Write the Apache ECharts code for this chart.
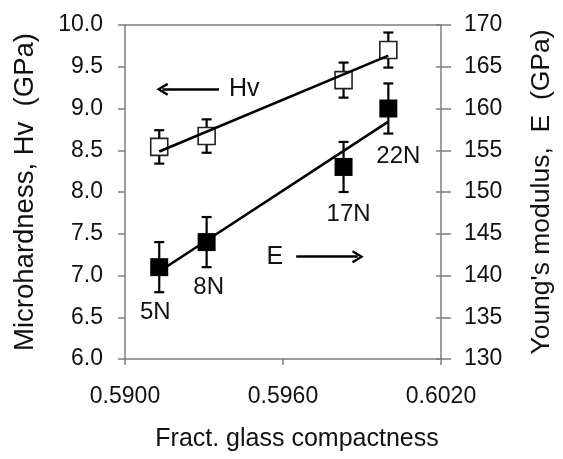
<!DOCTYPE html>
<html>
<head>
<meta charset="utf-8">
<script src="https://cdn.jsdelivr.net/npm/echarts@6/dist/echarts.min.js"></script>
<style>html,body{margin:0;padding:0;background:#fff}#c{width:563px;height:459px}</style>
</head>
<body>
<div id="c"></div>
<script>
// ---- data ----
const xVals = [0.5913, 0.5931, 0.5983, 0.6000];      // fract. glass compactness
const hvVals = [8.54, 8.67, 9.34, 9.70];             // microhardness Hv (GPa)
const hvErr = [0.20, 0.20, 0.21, 0.21];
const eVals = [141, 144, 153, 160];                  // Young's modulus E (GPa)
const eErr = [3, 3, 3, 3];
const loadLabels = ['5N', '8N', '17N', '22N'];
const xTicks = [0.5900, 0.5960, 0.6020];
const annotText = ['Hv', 'E'];
const hvArrow = [[0.59357, 9.23], [0.59142, 9.23]];   // start -> tip (left axis units)
const eArrow = [[0.5965, 142.25], [0.59884, 142.25]];  // start -> tip (right axis units)

// ---- styles (kept separate) ----
const FONT = 'Liberation Sans, Arial, sans-serif';
const TXT = '#111';
const AX = '#7f7f7f';
const labelOffsets = [[-4, 0], [2, 0], [5, 2], [10, 3]];
const chevron = 'path://M5,0 L10,9 L8.4,10.2 L5,3.6 L1.6,10.2 L0,9 Z';

function linFit(xs, ys) {
  const n = xs.length;
  const mx = xs.reduce((a, b) => a + b, 0) / n;
  const my = ys.reduce((a, b) => a + b, 0) / n;
  let sxy = 0, sxx = 0;
  for (let i = 0; i < n; i++) { sxy += (xs[i] - mx) * (ys[i] - my); sxx += (xs[i] - mx) ** 2; }
  const b = sxy / sxx, a = my - b * mx;
  const x0 = Math.min(...xs), x1 = Math.max(...xs);
  return [[x0, a + b * x0], [x1, a + b * x1]];
}

function errRender(params, api) {
  const x = api.value(0);
  const lo = api.coord([x, api.value(1)]);
  const hi = api.coord([x, api.value(2)]);
  const w = 5;
  const st = { stroke: '#000', lineWidth: 2.2 };
  return {
    type: 'group',
    children: [
      { type: 'line', shape: { x1: lo[0], y1: lo[1], x2: hi[0], y2: hi[1] }, style: st },
      { type: 'line', shape: { x1: lo[0] - w, y1: lo[1], x2: lo[0] + w, y2: lo[1] }, style: st },
      { type: 'line', shape: { x1: hi[0] - w, y1: hi[1], x2: hi[0] + w, y2: hi[1] }, style: st }
    ]
  };
}

function arrowMark(pts, text, dist) {
  return {
    silent: true,
    symbol: ['none', chevron],
    symbolSize: [13, 12],
    lineStyle: { color: '#000', width: 2.5, type: 'solid' },
    label: { show: true, position: 'start', formatter: text, fontSize: 25, color: TXT, fontFamily: FONT, distance: dist },
    emphasis: { disabled: true },
    data: [[{ coord: pts[0] }, { coord: pts[1] }]]
  };
}

const chart = echarts.init(document.getElementById('c'), null, { renderer: 'canvas' });
const option = {
  animation: false,
  backgroundColor: '#fff',
  grid: { left: 125, right: 118, top: 25, bottom: 100 },
  xAxis: [
    {
      type: 'value', min: 0.5900, max: 0.6020, position: 'bottom',
      axisLine: { show: true, onZero: false, lineStyle: { color: AX, width: 1.5 } },
      axisTick: { show: true, customValues: xTicks, length: 6, lineStyle: { color: AX, width: 1.5 } },
      axisLabel: { customValues: xTicks, formatter: v => v.toFixed(4), fontSize: 23, color: TXT, margin: 26, fontFamily: FONT },
      splitLine: { show: false },
      name: 'Fract. glass compactness', nameLocation: 'middle', nameGap: 68,
      nameTextStyle: { fontSize: 25, color: TXT, fontFamily: FONT, padding: [0, 0, 0, 28] }
    },
    {
      type: 'value', min: 0.5900, max: 0.6020, position: 'top',
      axisLine: { show: true, onZero: false, lineStyle: { color: AX, width: 1.5 } },
      axisTick: { show: false }, axisLabel: { show: false }, splitLine: { show: false }
    }
  ],
  yAxis: [
    {
      type: 'value', min: 6, max: 10, interval: 0.5, position: 'left',
      axisLine: { show: true, onZero: false, lineStyle: { color: AX, width: 1.5 } },
      axisTick: { show: true, length: 7, lineStyle: { color: AX, width: 1.5 } },
      axisLabel: { formatter: v => v.toFixed(1), fontSize: 23, color: TXT, margin: 22, fontFamily: FONT },
      splitLine: { show: false },
      name: 'Microhardness, Hv  (GPa)', nameLocation: 'middle', nameRotate: 90, nameGap: 86,
      nameTextStyle: { fontSize: 27.5, color: TXT, fontFamily: FONT }
    },
    {
      type: 'value', min: 130, max: 170, interval: 5, position: 'right',
      axisLine: { show: true, onZero: false, lineStyle: { color: AX, width: 1.5 } },
      axisTick: { show: true, length: 10, lineStyle: { color: AX, width: 1.5 } },
      axisLabel: { fontSize: 23, color: TXT, margin: 23, fontFamily: FONT },
      splitLine: { show: false },
      name: "Young's modulus,  E  (GPa)", nameLocation: 'middle', nameRotate: 90, nameGap: 87,
      nameTextStyle: { fontSize: 26.5, color: TXT, fontFamily: FONT }
    },
    {
      type: 'value', min: 130, max: 170, interval: 5, position: 'right',
      axisLine: { show: false },
      axisTick: { show: true, inside: true, length: 5, lineStyle: { color: AX, width: 1.5 } },
      axisLabel: { show: false }, splitLine: { show: false }
    }
  ],
  series: [
    {
      type: 'custom', xAxisIndex: 0, yAxisIndex: 0, z: 1, silent: true,
      renderItem: errRender, encode: { x: 0, y: [1, 2] },
      data: xVals.map((x, i) => [x, hvVals[i] - hvErr[i], hvVals[i] + hvErr[i]])
    },
    {
      type: 'custom', xAxisIndex: 0, yAxisIndex: 1, z: 1, silent: true,
      renderItem: errRender, encode: { x: 0, y: [1, 2] },
      data: xVals.map((x, i) => [x, eVals[i] - eErr[i], eVals[i] + eErr[i]])
    },
    {
      type: 'scatter', xAxisIndex: 0, yAxisIndex: 0, z: 3, silent: true,
      symbol: 'rect', symbolSize: 17,
      itemStyle: { color: '#fff', borderColor: '#222', borderWidth: 1.6, opacity: 1 },
      data: xVals.map((x, i) => [x, hvVals[i]])
    },
    {
      type: 'scatter', xAxisIndex: 0, yAxisIndex: 1, z: 3, silent: true,
      symbol: 'rect', symbolSize: 18,
      itemStyle: { color: '#000', opacity: 1 },
      label: { show: true, position: 'bottom', distance: 24, fontSize: 24, color: TXT, fontFamily: FONT,
               formatter: p => loadLabels[p.dataIndex] },
      data: xVals.map((x, i) => ({ value: [x, eVals[i]], label: { offset: labelOffsets[i] } }))
    },
    {
      type: 'line', xAxisIndex: 0, yAxisIndex: 0, z: 4, silent: true,
      showSymbol: false, symbol: 'none',
      lineStyle: { color: '#000', width: 2.6 },
      data: linFit(xVals, hvVals),
      markLine: arrowMark(hvArrow, annotText[0], 10)
    },
    {
      type: 'line', xAxisIndex: 0, yAxisIndex: 1, z: 4, silent: true,
      showSymbol: false, symbol: 'none',
      lineStyle: { color: '#000', width: 2.6 },
      data: linFit(xVals, eVals),
      markLine: arrowMark(eArrow, annotText[1], 13)
    }
  ]
};
chart.setOption(option);
</script>
</body>
</html>
